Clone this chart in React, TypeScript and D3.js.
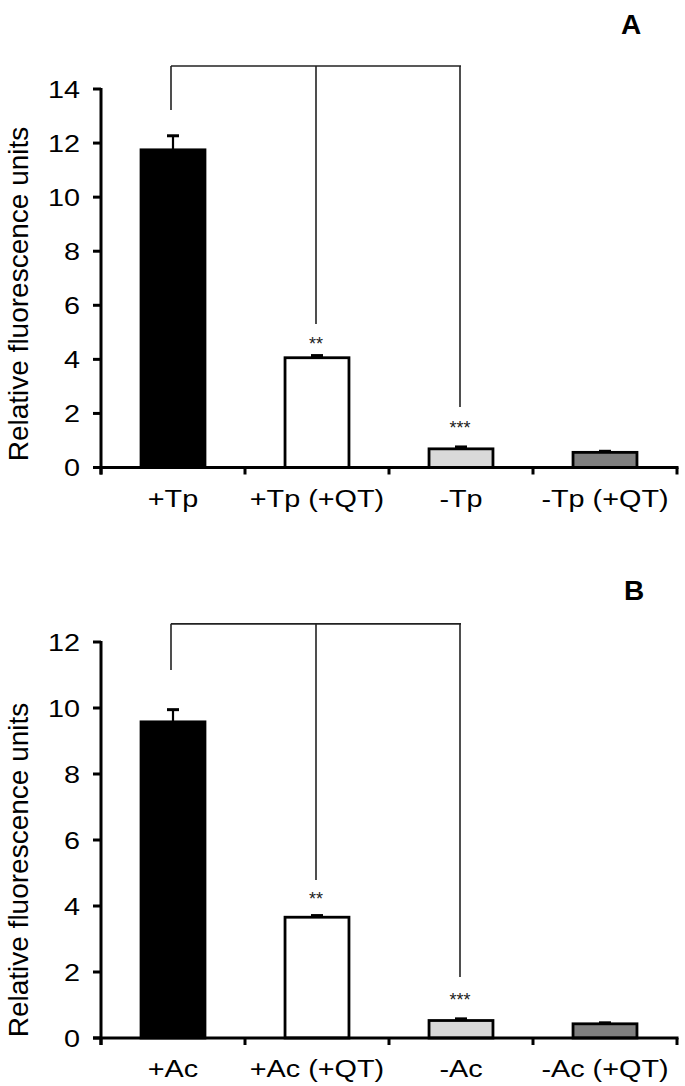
import React from "react";
import * as d3 from "d3";

const categoriesA = ["+Tp", "+Tp (+QT)", "-Tp", "-Tp (+QT)"];
const valuesA = [11.75, 4.06, 0.69, 0.56];
const errorsA = [0.52, 0.08, 0.07, 0.04];
const ticksA = [0, 2, 4, 6, 8, 10, 12, 14];

const categoriesB = ["+Ac", "+Ac (+QT)", "-Ac", "-Ac (+QT)"];
const valuesB = [9.58, 3.66, 0.53, 0.43];
const errorsB = [0.37, 0.05, 0.05, 0.03];
const ticksB = [0, 2, 4, 6, 8, 10, 12];

// significance annotations: [bar index, stars, leg-end value, star value]
const sigA: [number, string, number, number][] = [
  [1, "**", 5.31, 4.72],
  [2, "***", 2.24, 1.6],
];
const sigB: [number, string, number, number][] = [
  [1, "**", 4.79, 4.33],
  [2, "***", 1.85, 1.27],
];
const bracketA = { top: 14.85, ref: 0, refEnd: 13.22 };
const bracketB = { top: 12.55, ref: 0, refEnd: 11.15 };

const fills = ["#000000", "#ffffff", "#d9d9d9", "#7f7f7f"];
const FONT = "'Liberation Sans', Arial, Helvetica, sans-serif";

type PanelProps = {
  categories: string[];
  values: number[];
  errors: number[];
  ticks: number[];
  yMax: number;
  y0: number;
  yTop: number;
  sig: [number, string, number, number][];
  bracket: { top: number; ref: number; refEnd: number };
  letter: string;
  letterX: number;
  letterY: number;
  titleCenter: number;
};

function Panel(p: PanelProps) {
  const x = d3.scaleBand<string>().domain(p.categories).range([101, 677]).paddingInner(0).paddingOuter(0);
  const y = d3.scaleLinear().domain([0, p.yMax]).range([p.y0, p.yTop]);
  const bw = x.bandwidth() * 0.444;
  const cx = (c: string) => (x(c) as number) + x.bandwidth() / 2;
  const boundaries = [101, ...p.categories.map((c) => (x(c) as number) + x.bandwidth())];
  const refX = cx(p.categories[p.bracket.ref]) - 2;
  const lastSigX = cx(p.categories[p.sig[p.sig.length - 1][0]]);
  return (
    <g>
      <text x={p.letterX} y={p.letterY} fontFamily={FONT} fontWeight="bold" fontSize={28} textAnchor="middle">
        {p.letter}
      </text>
      {/* bars */}
      {p.categories.map((c, i) => (
        <rect
          key={c}
          x={cx(c) - bw / 2}
          y={y(p.values[i])}
          width={bw}
          height={p.y0 - y(p.values[i])}
          fill={fills[i]}
          stroke="#000"
          strokeWidth={2.8}
        />
      ))}
      {/* error bars */}
      {p.categories.map((c, i) => {
        const top = y(p.values[i] + p.errors[i]);
        const base = y(p.values[i]);
        return (
          <g key={"e" + c}>
            <line x1={cx(c)} x2={cx(c)} y1={base} y2={top} stroke="#000" strokeWidth={2.2} />
            <line x1={cx(c) - 6} x2={cx(c) + 6} y1={top} y2={top} stroke="#000" strokeWidth={3} />
          </g>
        );
      })}
      {/* y axis */}
      <line x1={101} x2={101} y1={y(p.yMax) - 1} y2={p.y0 + 7} stroke="#000" strokeWidth={3} />
      {p.ticks.map((t) => (
        <g key={"t" + t}>
          <line x1={93} x2={101} y1={y(t)} y2={y(t)} stroke="#000" strokeWidth={3} />
          <text
            transform={`translate(80,${y(t) + 8.5}) scale(1.2,1)`}
            fontFamily={FONT}
            fontSize={24}
            textAnchor="end"
          >
            {t}
          </text>
        </g>
      ))}
      <text
        transform={`translate(28,${p.titleCenter}) rotate(-90)`}
        fontFamily={FONT}
        fontSize={28}
        textAnchor="middle"
      >
        Relative fluorescence units
      </text>
      {/* x axis */}
      <line x1={93} x2={678.5} y1={p.y0} y2={p.y0} stroke="#000" strokeWidth={3} />
      {boundaries.map((b, i) => (
        <line key={"b" + i} x1={b} x2={b} y1={p.y0} y2={p.y0 + 7} stroke="#000" strokeWidth={3} />
      ))}
      {p.categories.map((c) => (
        <text
          key={"l" + c}
          transform={`translate(${cx(c)},${p.y0 + 39}) scale(1.2,1)`}
          fontFamily={FONT}
          fontSize={24}
          textAnchor="middle"
        >
          {c}
        </text>
      ))}
      {/* bracket */}
      <line x1={refX} x2={lastSigX} y1={y(p.bracket.top)} y2={y(p.bracket.top)} stroke="#222" strokeWidth={1.6} />
      <line x1={refX} x2={refX} y1={y(p.bracket.top)} y2={y(p.bracket.refEnd)} stroke="#222" strokeWidth={1.6} />
      {p.sig.map(([idx, stars, legEnd, starV]) => {
        const sx = cx(p.categories[idx]) - 1;
        return (
          <g key={"s" + idx}>
            <line x1={sx} x2={sx} y1={y(p.bracket.top)} y2={y(legEnd)} stroke="#222" strokeWidth={1.6} />
            <text x={sx} y={y(starV) + 10} fontFamily={FONT} fontSize={18} textAnchor="middle" fill="#222">
              {stars}
            </text>
          </g>
        );
      })}
    </g>
  );
}

export default function App() {
  return (
    <svg
      width={685}
      height={1086}
      viewBox="0 0 685 1086"
      style={{ position: "absolute", left: 0, top: 0, background: "#fff" }}
    >
      <rect width={685} height={1086} fill="#fff" />
      <Panel
        categories={categoriesA}
        values={valuesA}
        errors={errorsA}
        ticks={ticksA}
        yMax={14}
        y0={467.5}
        yTop={89}
        sig={sigA}
        bracket={bracketA}
        letter="A"
        letterX={631}
        letterY={34}
        titleCenter={294}
      />
      <Panel
        categories={categoriesB}
        values={valuesB}
        errors={errorsB}
        ticks={ticksB}
        yMax={12}
        y0={1038}
        yTop={642}
        sig={sigB}
        bracket={bracketB}
        letter="B"
        letterX={634}
        letterY={600}
        titleCenter={870}
      />
    </svg>
  );
}
